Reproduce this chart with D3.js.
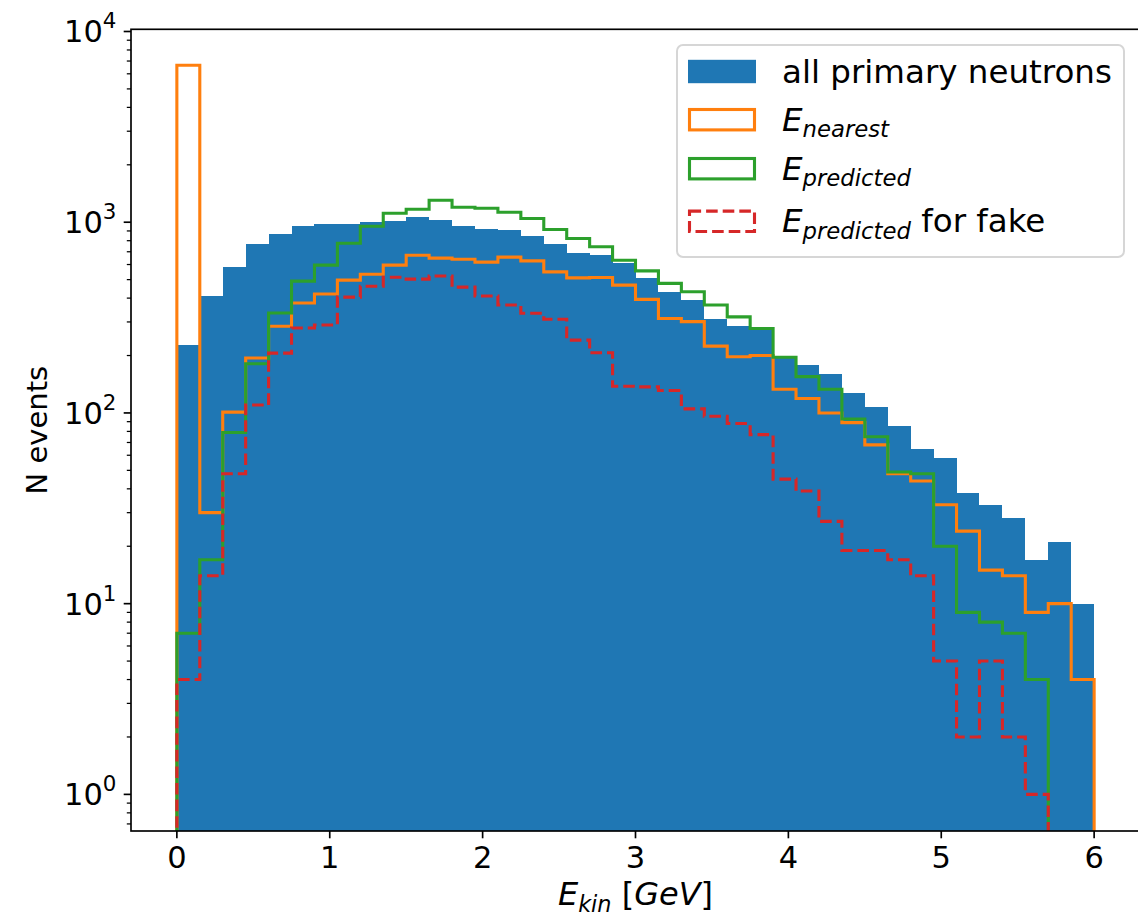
<!DOCTYPE html>
<html>
<head>
<meta charset="utf-8">
<script src="https://cdn.jsdelivr.net/npm/d3@7"></script>
<style>
  body { margin: 0; background: #fff; }
  svg { display: block; font-family: "DejaVu Sans", sans-serif; }
</style>
</head>
<body>
<svg id="chart" width="1138" height="917"></svg>
<script>
// bin edges in GeV (40 bins of 0.15)
const binEdges = [0, 0.15, 0.3, 0.45, 0.6, 0.75, 0.9, 1.05, 1.2, 1.35, 1.5, 1.65, 1.8, 1.95, 2.1,
  2.25, 2.4, 2.55, 2.7, 2.85, 3.0, 3.15, 3.3, 3.45, 3.6, 3.75, 3.9, 4.05, 4.2, 4.35, 4.5,
  4.65, 4.8, 4.95, 5.1, 5.25, 5.4, 5.55, 5.7, 5.85, 6.0];

const allNeutrons = [227, 410, 581, 767, 865, 953, 977, 977, 1000, 1012, 1062, 1023, 953, 919, 908,
  845, 767, 690, 671, 608, 511, 432, 390, 311, 286, 275, 195, 178, 160, 127,
  107, 85, 65, 58, 38, 33, 28, 17, 21, 10];

const eNearest = [6650, 30, 101, 194, 285, 377, 420, 497, 534, 596, 671, 648, 640, 618, 656,
  627, 549, 511, 513, 468, 394, 313, 301, 224, 197, 200, 133, 119, 100, 89,
  68, 48, 44, 33, 24, 15, 14, 9, 10, 4];

const ePredicted = [7, 17, 79, 181, 334, 491, 596, 776, 953, 1114, 1170, 1303, 1199, 1183, 1127,
  1045, 915, 822, 743, 632, 556, 478, 432, 368, 319, 277, 196, 155, 133, 93,
  75, 49, 48, 20, 9, 8, 7, 4, 0, 0];

const ePredictedFake = [4, 14, 48, 110, 206, 279, 289, 405, 462, 515, 503, 522, 457, 410, 368,
  333, 310, 241, 207, 138, 137, 131, 105, 96, 88, 77, 45, 39, 27, 19,
  19, 17, 14, 5, 2, 5, 2, 1, 0, 0];

const xTicks = [0, 1, 2, 3, 4, 5, 6];
const yTickExp = [0, 1, 2, 3, 4];

const svg = d3.select('#chart');

const plotLeft = 131, plotRight = 1140, plotTop = 29.3, plotBottom = 831;
const tickFont = 30.5;
const labelFont = 29;

const x = d3.scaleLinear().domain([-0.3, 6.3]).range([plotLeft, plotRight]);
const y = d3.scaleLog().domain([Math.pow(10, -0.192), Math.pow(10, 4.0115)]).range([plotBottom, plotTop]);

svg.append('clipPath').attr('id', 'plotclip')
  .append('rect')
  .attr('x', plotLeft).attr('y', plotTop)
  .attr('width', plotRight - plotLeft).attr('height', plotBottom - plotTop);

const plot = svg.append('g').attr('clip-path', 'url(#plotclip)');

// filled histogram
plot.selectAll('rect.bar')
  .data(allNeutrons)
  .enter()
  .append('rect')
  .attr('class', 'bar')
  .attr('x', (d, i) => x(binEdges[i]))
  .attr('width', (d, i) => x(binEdges[i + 1]) - x(binEdges[i]))
  .attr('y', d => y(d))
  .attr('height', d => plotBottom - y(d))
  .attr('fill', '#1f77b4')
  .attr('shape-rendering', 'crispEdges');

function yPix(v) {
  return v > 0 ? y(v) : plotBottom + 30;
}

function stepPoints(counts) {
  var pts = [[x(binEdges[0]), plotBottom + 30]];
  counts.forEach((c, i) => {
    pts.push([x(binEdges[i]), yPix(c)]);
    pts.push([x(binEdges[i + 1]), yPix(c)]);
  });
  pts.push([x(binEdges[binEdges.length - 1]), plotBottom + 30]);
  return pts;
}

const line = d3.line();

const steps = [
  { data: eNearest, color: '#ff7f0e', dash: null },
  { data: ePredicted, color: '#2ca02c', dash: null },
  { data: ePredictedFake, color: '#d62728', dash: '11.6,5' }
];

steps.forEach(s => {
  plot.append('path')
    .attr('d', line(stepPoints(s.data)))
    .attr('fill', 'none')
    .attr('stroke', s.color)
    .attr('stroke-width', 3.1)
    .attr('stroke-linejoin', 'miter')
    .attr('stroke-dasharray', s.dash);
});

// spines
svg.append('rect')
  .attr('x', plotLeft).attr('y', plotTop)
  .attr('width', plotRight - plotLeft).attr('height', plotBottom - plotTop)
  .attr('fill', 'none')
  .attr('stroke', '#000')
  .attr('stroke-width', 1.67);

// x axis
const xAxis = svg.append('g');
xAxis.selectAll('line')
  .data(xTicks)
  .enter()
  .append('line')
  .attr('x1', d => x(d)).attr('x2', d => x(d))
  .attr('y1', plotBottom).attr('y2', plotBottom + 7.3)
  .attr('stroke', '#000').attr('stroke-width', 1.67);
xAxis.selectAll('text')
  .data(xTicks)
  .enter()
  .append('text')
  .attr('x', d => x(d))
  .attr('y', plotBottom + 37)
  .attr('text-anchor', 'middle')
  .attr('font-size', tickFont)
  .text(d => d);

// y axis, major + minor
const yAxis = svg.append('g');
var minor = [];
[-1, 0, 1, 2, 3].forEach(e => {
  for (var m = 2; m <= 9; m++) {
    var v = m * Math.pow(10, e);
    if (v >= y.domain()[0] && v <= y.domain()[1]) minor.push(v);
  }
});
yAxis.selectAll('line.minor')
  .data(minor)
  .enter()
  .append('line')
  .attr('class', 'minor')
  .attr('x1', plotLeft).attr('x2', plotLeft - 4.2)
  .attr('y1', d => y(d)).attr('y2', d => y(d))
  .attr('stroke', '#000').attr('stroke-width', 1.25);
yAxis.selectAll('line.major')
  .data(yTickExp)
  .enter()
  .append('line')
  .attr('class', 'major')
  .attr('x1', plotLeft).attr('x2', plotLeft - 7.3)
  .attr('y1', d => y(Math.pow(10, d))).attr('y2', d => y(Math.pow(10, d)))
  .attr('stroke', '#000').attr('stroke-width', 1.67);
var yLabels = yAxis.selectAll('text')
  .data(yTickExp)
  .enter()
  .append('text')
  .attr('x', plotLeft - 14.6)
  .attr('y', d => y(Math.pow(10, d)) + 11)
  .attr('text-anchor', 'end')
  .attr('font-size', tickFont);
yLabels.append('tspan').text('10');
yLabels.append('tspan')
  .attr('font-size', tickFont * 0.7)
  .attr('dy', -14)
  .text(d => d);

// axis labels
svg.append('text')
  .attr('transform', 'translate(47,' + ((plotTop + plotBottom) / 2) + ') rotate(-90)')
  .attr('text-anchor', 'middle')
  .attr('font-size', labelFont)
  .text('N events');

const xlFont = 32;
var xl = svg.append('text')
  .attr('x', (plotLeft + plotRight) / 2)
  .attr('y', 905)
  .attr('text-anchor', 'middle')
  .attr('font-size', xlFont);
xl.append('tspan').attr('font-style', 'italic').text('E');
xl.append('tspan').attr('font-style', 'italic').attr('font-size', xlFont * 0.7).attr('dy', 7).text('kin');
xl.append('tspan').attr('dy', -7).text('\u00a0[');
xl.append('tspan').attr('font-style', 'italic').text('GeV');
xl.append('tspan').text(']');

// legend
const legFont = 32.5;
const leg = svg.append('g');
leg.append('rect')
  .attr('x', 677).attr('y', 45)
  .attr('width', 447).attr('height', 212)
  .attr('rx', 6)
  .attr('fill', '#fff').attr('fill-opacity', 0.8)
  .attr('stroke', '#d6d6d6').attr('stroke-width', 2);

const legRows = [
  { cy: 71.5, color: '#1f77b4', fill: true, dash: null, sub: null, main: 'all primary neutrons' },
  { cy: 119.7, color: '#ff7f0e', fill: false, dash: null, sub: 'nearest', main: '' },
  { cy: 168.7, color: '#2ca02c', fill: false, dash: null, sub: 'predicted', main: '' },
  { cy: 221.3, color: '#d62728', fill: false, dash: '11.6,5', sub: 'predicted', main: ' for fake' }
];

legRows.forEach(r => {
  if (r.fill) {
    leg.append('rect')
      .attr('x', 688).attr('y', r.cy - 11.7)
      .attr('width', 68).attr('height', 23.4)
      .attr('fill', r.color);
  } else {
    leg.append('rect')
      .attr('x', 689.5).attr('y', r.cy - 10.2)
      .attr('width', 65).attr('height', 20.4)
      .attr('fill', 'none')
      .attr('stroke', r.color)
      .attr('stroke-width', 3.1)
      .attr('stroke-dasharray', r.dash);
  }
  var t = leg.append('text')
    .attr('x', 782)
    .attr('y', r.cy + 11)
    .attr('font-size', legFont);
  if (r.sub) {
    t.append('tspan').attr('font-style', 'italic').text('E');
    t.append('tspan').attr('font-style', 'italic').attr('font-size', legFont * 0.7).attr('dy', 6.5).text(r.sub);
    if (r.main) t.append('tspan').attr('dy', -6.5).text(r.main.replace(' ', '\u00a0'));
  } else {
    t.text(r.main);
  }
});
</script>
</body>
</html>
